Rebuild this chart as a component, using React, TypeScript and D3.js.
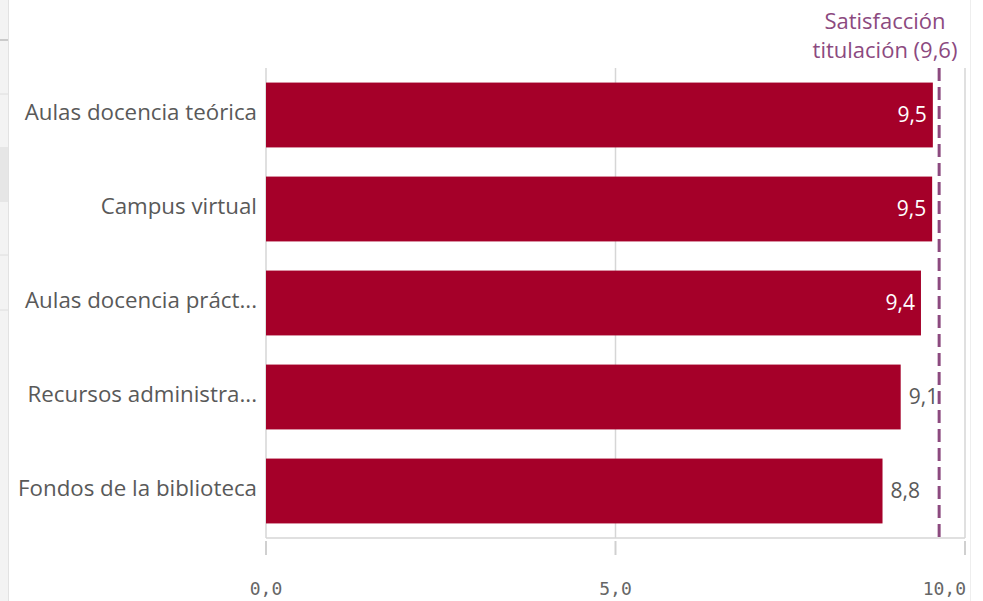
import React from "react";
import * as d3 from "d3";

const categories = [
  "Aulas docencia teórica",
  "Campus virtual",
  "Aulas docencia práct...",
  "Recursos administra...",
  "Fondos de la biblioteca",
];
const values = [9.54, 9.53, 9.37, 9.08, 8.82];
const referenceValue = 9.63;
const referenceLabel = ["Satisfacción", "titulación (9,6)"];
const xTicks = [0, 5, 10];

const W = 983;
const H = 601;
const plot = { left: 266, right: 965, top: 68, bottom: 538 };
const fmt = (v: number) => v.toFixed(1).replace(".", ",");

export default function App() {
  const x = d3.scaleLinear().domain([0, 10]).range([plot.left, plot.right]);
  const y = d3
    .scaleBand<string>()
    .domain(categories)
    .range([plot.top, plot.bottom])
    .paddingInner(0.31)
    .paddingOuter(0.155);

  const textFont = "'Open Sans', sans-serif";
  const gray = "#595959";
  const purple = "#8c4a7f";
  const barColor = "#a50029";
  const refX = x(referenceValue);

  return (
    <div style={{ position: "fixed", left: 0, top: 0 }}>
      <svg width={W} height={H} style={{ display: "block", background: "#fff" }}>
        {/* UI remnants on left and right */}
        <rect x={0} y={0} width={8} height={H} fill="#f3f3f3" />
        <rect x={0} y={147} width={8} height={55} fill="#e6e6e6" />
        <line x1={0} x2={8} y1={40} y2={40} stroke="#bdbdbd" strokeWidth={1.5} />
        {[94, 255, 310].map((yy) => (
          <line key={yy} x1={0} x2={8} y1={yy} y2={yy} stroke="#dedede" strokeWidth={1} />
        ))}
        <line x1={8.5} x2={8.5} y1={0} y2={H} stroke="#e2e2e2" strokeWidth={1} />
        <line x1={970.5} x2={970.5} y1={0} y2={H} stroke="#eeeeee" strokeWidth={1} />

        {/* gridlines */}
        {xTicks.map((t) => (
          <line
            key={"g" + t}
            x1={x(t)}
            x2={x(t)}
            y1={plot.top}
            y2={plot.bottom}
            stroke="#d6d6d6"
            strokeWidth={1.5}
          />
        ))}
        <line
          x1={plot.left}
          x2={plot.right}
          y1={plot.bottom}
          y2={plot.bottom}
          stroke="#d6d6d6"
          strokeWidth={1.5}
        />
        {/* tick marks */}
        {xTicks.map((t) => (
          <line
            key={"t" + t}
            x1={x(t)}
            x2={x(t)}
            y1={541}
            y2={555}
            stroke="#d0d0d0"
            strokeWidth={2}
          />
        ))}
        {/* tick labels */}
        {xTicks.map((t, i) => (
          <text
            key={"l" + t}
            x={i === xTicks.length - 1 ? x(t) + 1 : x(t)}
            y={595}
            textAnchor={i === xTicks.length - 1 ? "end" : "middle"}
            fontFamily="'DejaVu Sans Mono', monospace"
            fontSize={18}
            fill="#666"
          >
            {fmt(t)}
          </text>
        ))}

        {/* bars */}
        {categories.map((c, i) => {
          const y0 = y(c)!;
          const bw = y.bandwidth();
          const xe = x(values[i]);
          const inside = plot.right - xe < 50;
          return (
            <g key={c}>
              <rect
                x={plot.left}
                y={y0}
                width={xe - plot.left}
                height={bw}
                fill={barColor}
              />
              <text
                x={inside ? xe - 6 : xe + 8}
                y={y0 + bw / 2}
                dy="0.33em"
                textAnchor={inside ? "end" : "start"}
                fontFamily={textFont}
                fontSize={21}
                fill={inside ? "#ffffff" : gray}
              >
                {fmt(values[i])}
              </text>
              <text
                x={257}
                y={y0 + bw / 2 - 3}
                dy="0.35em"
                textAnchor="end"
                fontFamily={textFont}
                fontSize={22.3}
                fill={gray}
              >
                {c}
              </text>
            </g>
          );
        })}

        {/* reference line */}
        <line
          x1={refX}
          x2={refX}
          y1={plot.top}
          y2={plot.bottom}
          stroke={purple}
          strokeWidth={3}
          strokeDasharray="13,6"
        />
        {referenceLabel.map((s, i) => (
          <text
            key={s}
            x={885}
            y={29 + i * 29}
            textAnchor="middle"
            fontFamily={textFont}
            fontSize={22}
            fill={purple}
          >
            {s}
          </text>
        ))}
      </svg>
    </div>
  );
}
